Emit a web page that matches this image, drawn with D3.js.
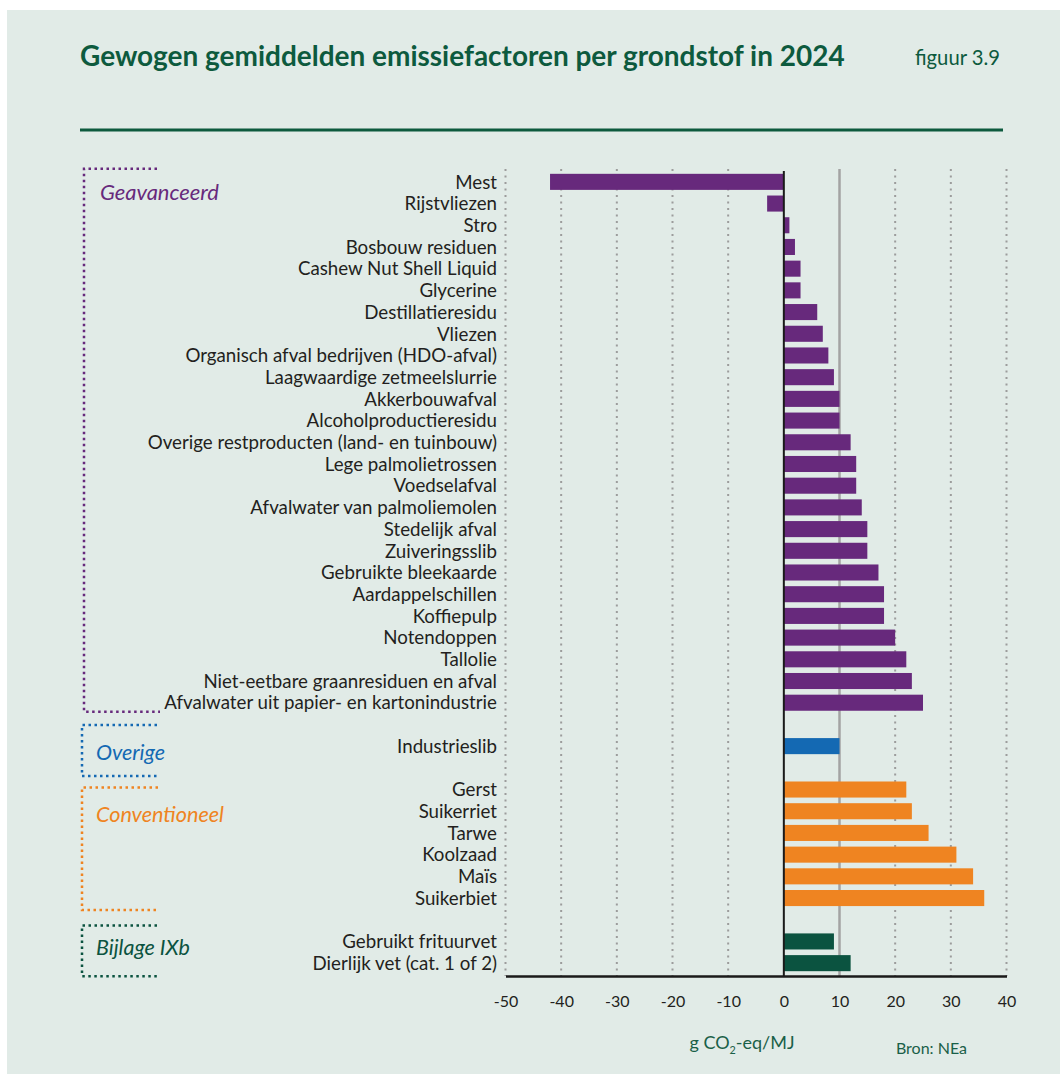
<!DOCTYPE html>
<html>
<meta charset="utf-8">
<script src="https://d3js.org/d3.v7.min.js"></script>
<style>
  body { margin: 0; background: #fff; }
  svg { display: block; font-family: Lato, "Open Sans", sans-serif; }
</style>
<body>
<div id="chart"></div>
<script>
// categories per group, top to bottom
var geavanceerd = ["Mest", "Rijstvliezen", "Stro", "Bosbouw residuen", "Cashew Nut Shell Liquid",
  "Glycerine", "Destillatieresidu", "Vliezen", "Organisch afval bedrijven (HDO-afval)",
  "Laagwaardige zetmeelslurrie", "Akkerbouwafval", "Alcoholproductieresidu",
  "Overige restproducten (land- en tuinbouw)", "Lege palmolietrossen", "Voedselafval",
  "Afvalwater van palmoliemolen", "Stedelijk afval", "Zuiveringsslib", "Gebruikte bleekaarde",
  "Aardappelschillen", "Koffiepulp", "Notendoppen", "Tallolie",
  "Niet-eetbare graanresiduen en afval", "Afvalwater uit papier- en kartonindustrie"];
var geavanceerdValues = [-42, -3, 1, 2, 3, 3, 6, 7, 8, 9, 10, 10, 12, 13, 13, 14, 15, 15, 17, 18, 18, 20, 22, 23, 25];

var overige = ["Industrieslib"];
var overigeValues = [10];

var conventioneel = ["Gerst", "Suikerriet", "Tarwe", "Koolzaad", "Maïs", "Suikerbiet"];
var conventioneelValues = [22, 23, 26, 31, 34, 36];

var bijlage = ["Gebruikt frituurvet", "Dierlijk vet (cat. 1 of 2)"];
var bijlageValues = [9, 12];

var groupNames = ["Geavanceerd", "Overige", "Conventioneel", "Bijlage IXb"];
var groupColors = ["#67297c", "#1469b3", "#ef8421", "#0b5340"];

var xTicks = [-50, -40, -30, -20, -10, 0, 10, 20, 30, 40];

var W = 1060, H = 1074;
var GREEN = "#0d5a3e";

var groups = [
  { name: groupNames[0], color: groupColors[0], cats: geavanceerd, vals: geavanceerdValues },
  { name: groupNames[1], color: groupColors[1], cats: overige, vals: overigeValues },
  { name: groupNames[2], color: groupColors[2], cats: conventioneel, vals: conventioneelValues },
  { name: groupNames[3], color: groupColors[3], cats: bijlage, vals: bijlageValues }
];

// rows, with an empty slot between groups
var rows = [], slots = [];
groups.forEach(function (g, gi) {
  if (gi > 0) slots.push("_gap" + gi);
  g.cats.forEach(function (c, i) {
    rows.push({ cat: c, value: g.vals[i], color: g.color, group: g.name });
    slots.push(c);
  });
});

var svg = d3.select("#chart").append("svg").attr("width", W).attr("height", H);

svg.append("rect").attr("x", 7).attr("y", 10).attr("width", W - 7).attr("height", H - 10)
  .attr("fill", "#e1ebe7");

var x = d3.scaleLinear().domain([-50, 40]).range([505.5, 1006.5]);
var y = d3.scaleBand().domain(slots).range([171, 974]).paddingInner(0.26).paddingOuter(0.13);

// scale the font so the text has the wanted width
function fit(sel, width) {
  var base = 20;
  sel.style("font-size", base + "px");
  var w = sel.node().getComputedTextLength();
  sel.style("font-size", (base * width / w) + "px");
  return base * width / w;
}

// title
var title = svg.append("text").attr("x", 80).attr("y", 66)
  .attr("fill", GREEN).style("font-weight", "bold")
  .text("Gewogen gemiddelden emissiefactoren per grondstof in 2024");
fit(title, 765);

var fig = svg.append("text").attr("x", 1000).attr("y", 65).attr("text-anchor", "end")
  .attr("fill", GREEN).text("figuur 3.9");
fit(fig, 85);

svg.append("line").attr("x1", 80).attr("x2", 1003).attr("y1", 130).attr("y2", 130)
  .attr("stroke", GREEN).attr("stroke-width", 3);

// grid
var gridTop = 169, gridBottom = 976;
svg.append("g").selectAll("line").data(xTicks.filter(function (t) { return t !== 0 && t !== 10; }))
  .join("line")
  .attr("x1", function (d) { return x(d); }).attr("x2", function (d) { return x(d); })
  .attr("y1", gridTop).attr("y2", gridBottom)
  .attr("stroke", "#9c9c9c").attr("stroke-width", 2).attr("stroke-dasharray", "2,4.5");

svg.append("line").attr("x1", x(10)).attr("x2", x(10)).attr("y1", gridTop).attr("y2", gridBottom)
  .attr("stroke", "#a3a3a3").attr("stroke-width", 2.5);

// bars
svg.append("g").selectAll("rect").data(rows).join("rect")
  .attr("x", function (d) { return x(Math.min(0, d.value)); })
  .attr("width", function (d) { return Math.abs(x(d.value) - x(0)); })
  .attr("y", function (d) { return y(d.cat); })
  .attr("height", y.bandwidth())
  .attr("fill", function (d) { return d.color; });

// zero line and bottom axis
svg.append("line").attr("x1", x(0)).attr("x2", x(0)).attr("y1", 171).attr("y2", gridBottom)
  .attr("stroke", "#1a1a1a").attr("stroke-width", 2);

var xAxis = svg.append("g").attr("transform", "translate(0," + gridBottom + ")")
  .call(d3.axisBottom(x).tickValues(xTicks).tickSize(0).tickPadding(0)
    .tickFormat(function (d) { return String(d); }));
xAxis.select(".domain").attr("stroke", "#1a1a1a").attr("stroke-width", 2.5);
xAxis.selectAll("text").attr("dy", null).attr("y", 31).attr("fill", "#231f20")
  .style("font-family", "Lato, sans-serif").style("font-size", "16px");

// category labels
var labels = svg.append("g").selectAll("text").data(rows).join("text")
  .attr("x", 497).attr("y", function (d) { return y(d.cat) + y.bandwidth() / 2; })
  .attr("dy", "0.36em").attr("text-anchor", "end").attr("fill", "#231f20")
  .text(function (d) { return d.cat; });
var longest = labels.filter(function (d) { return d.cat === "Afvalwater uit papier- en kartonindustrie"; });
var labSize = fit(longest, 333);
labels.style("font-size", labSize + "px");

// group brackets (dotted) with italic names
var brackets = [
  { top: -13, bottom: 9, left: 84, w1: 73, w2: 76, base: 200, tx: 100, tw: 119 },
  { top: -21, bottom: 30, left: 82, w1: 75, w2: 77, base: 760, tx: 96, tw: 69 },
  { top: -2, bottom: 12, left: 82, w1: 76, w2: 77, base: 822, tx: 96, tw: 128 },
  { top: -16, bottom: 13, left: 82, w1: 75, w2: 77, base: 955, tx: 96, tw: 94 }
];
groups.forEach(function (g, i) {
  var b = brackets[i];
  var y0 = y(g.cats[0]) + y.bandwidth() / 2 + b.top;
  var y1 = y(g.cats[g.cats.length - 1]) + y.bandwidth() / 2 + b.bottom;
  svg.append("path")
    .attr("d", "M" + (b.left + b.w1) + "," + y0 + "H" + b.left + "V" + y1 + "H" + (b.left + b.w2))
    .attr("fill", "none").attr("stroke", g.color).attr("stroke-width", 2.5)
    .attr("stroke-dasharray", "2.5,3.5");
  var t = svg.append("text").attr("x", b.tx).attr("y", b.base)
    .attr("fill", g.color).style("font-style", "italic").text(g.name);
  fit(t, b.tw);
});

// axis title and source
var at = svg.append("text").attr("x", 742).attr("y", 1049).attr("text-anchor", "middle")
  .attr("fill", "#1a6048").style("font-size", "18px");
at.append("tspan").text("g CO");
at.append("tspan").attr("dy", 5).style("font-size", "0.6em").text("2");
at.append("tspan").attr("dy", -5).text("-eq/MJ");

svg.append("text").attr("x", 967).attr("y", 1054).attr("text-anchor", "end")
  .attr("fill", "#1a6048").style("font-size", "16px").text("Bron: NEa");
</script>
</body>
</html>
